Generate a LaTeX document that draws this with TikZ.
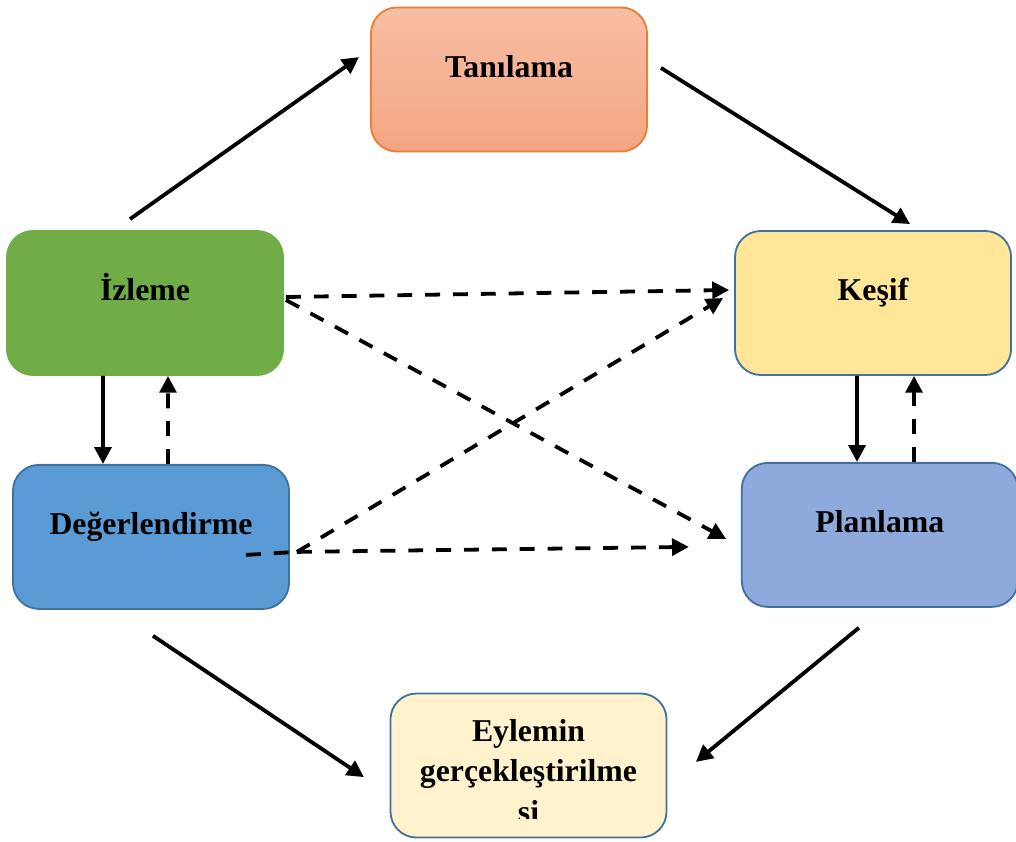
\documentclass[tikz,border=0pt]{standalone}
\usepackage{fontspec}
\setmainfont{Liberation Serif}
\usepackage{tikz}
\usetikzlibrary{positioning,arrows.meta}

\definecolor{tanitop}{HTML}{F7BEA4}
\definecolor{tanibottom}{HTML}{F4A582}
\definecolor{taniline}{HTML}{ED7D31}
\definecolor{izlemegreen}{HTML}{70AD47}
\definecolor{kesifyellow}{HTML}{FFE699}
\definecolor{degerblue}{HTML}{5B9BD5}
\definecolor{planblue}{HTML}{8EA9DB}
\definecolor{eylemcream}{HTML}{FFF2CC}
\definecolor{boxline}{HTML}{41719C}

\begin{document}
\begin{tikzpicture}[x=0.025cm,y=-0.025cm,node distance=2.2cm,
	stepbox/.style={rounded corners=0.65cm, minimum width=6.9cm, minimum height=3.6cm,
		line width=1.3pt, draw=boxline, font=\fontsize{22.6}{29}\selectfont\bfseries,
		text height=16pt, text depth=19pt},
	flow/.style={line width=2.7pt, -{Triangle[length=4.2mm,width=4.2mm]}},
	backflow/.style={flow, dash pattern=on 10.6pt off 9.2pt}]
	\useasboundingbox (0,0) rectangle (1016,841);

	\node (izleme)   [stepbox, fill=izlemegreen, draw=izlemegreen] at (145,303) {İzleme};
	\node (kesif)    [stepbox, fill=kesifyellow, right=11.25cm of izleme] {Keşif};
	\node (degerl)   [stepbox, fill=degerblue, below=of izleme, xshift=0.15cm] {Değerlendirme};
	\node (planlama) [stepbox, fill=planblue, below=2.15cm of kesif, xshift=0.17cm] {Planlama};
	\node (tanilama) [stepbox, top color=tanitop, bottom color=tanibottom, draw=taniline] at (509,79.5) {Tanılama};
	\node (eylem)    [stepbox, fill=eylemcream] at (528.5,765.5) {};
	\begin{scope}
		\clip (eylem.north west) rectangle ([yshift=0.5cm]eylem.south east);
		\node (eylemtext) [align=center, font=\fontsize{22.6}{29}\selectfont\bfseries, yshift=-0.14cm]
			at (eylem.center) {Eylemin\\gerçekleştirilme\\si};
	\end{scope}

	% main cycle
	\draw[flow] ([xshift=-0.375cm,yshift=0.275cm]izleme.north) -- ([xshift=-0.275cm,yshift=0.56cm]tanilama.west);
	\draw[flow] ([xshift=0.325cm,yshift=0.29cm]tanilama.east) -- ([xshift=0.925cm,yshift=0.15cm]kesif.north);
	\draw[flow] ([xshift=-0.525cm,yshift=-0.5cm]planlama.south) -- ([xshift=0.71cm,yshift=0.09cm]eylem.east);
	\draw[flow] ([xshift=0.05cm,yshift=-0.65cm]degerl.south) -- ([xshift=-0.64cm,yshift=-0.29cm]eylem.west);

	% up and down between pairs
	\draw[flow] ([xshift=-1.05cm]izleme.south) -- ([xshift=-1.2cm]degerl.north);
	\draw[backflow] ([xshift=0.425cm]degerl.north) -- ([xshift=0.575cm]izleme.south);
	\draw[flow] ([xshift=-0.4cm]kesif.south) -- ([xshift=-0.57cm]planlama.north);
	\draw[backflow] ([xshift=0.855cm]planlama.north) -- ([xshift=1.025cm]kesif.south);

	% crossing links
	\draw[backflow] ([xshift=0.05cm,yshift=0.15cm]izleme.east) -- ([xshift=-0.125cm,yshift=0.325cm]kesif.west);
	\draw[backflow] ([xshift=0.05cm,yshift=0.075cm]izleme.east) -- ([xshift=-0.37cm,yshift=-0.1cm]planlama.west);
	\coordinate (split) at ([xshift=0.175cm,yshift=-0.375cm]degerl.east);
	\draw[line width=2.7pt, dash pattern=on 10.6pt off 9.2pt] ([xshift=-1.1cm,yshift=-0.45cm]degerl.east) -- (split);
	\draw[backflow] (split) -- ([xshift=-0.275cm,yshift=0.125cm]kesif.west);
	\draw[backflow] (split) -- ([xshift=-1.3cm,yshift=-0.3cm]planlama.west);
\end{tikzpicture}
\end{document}
